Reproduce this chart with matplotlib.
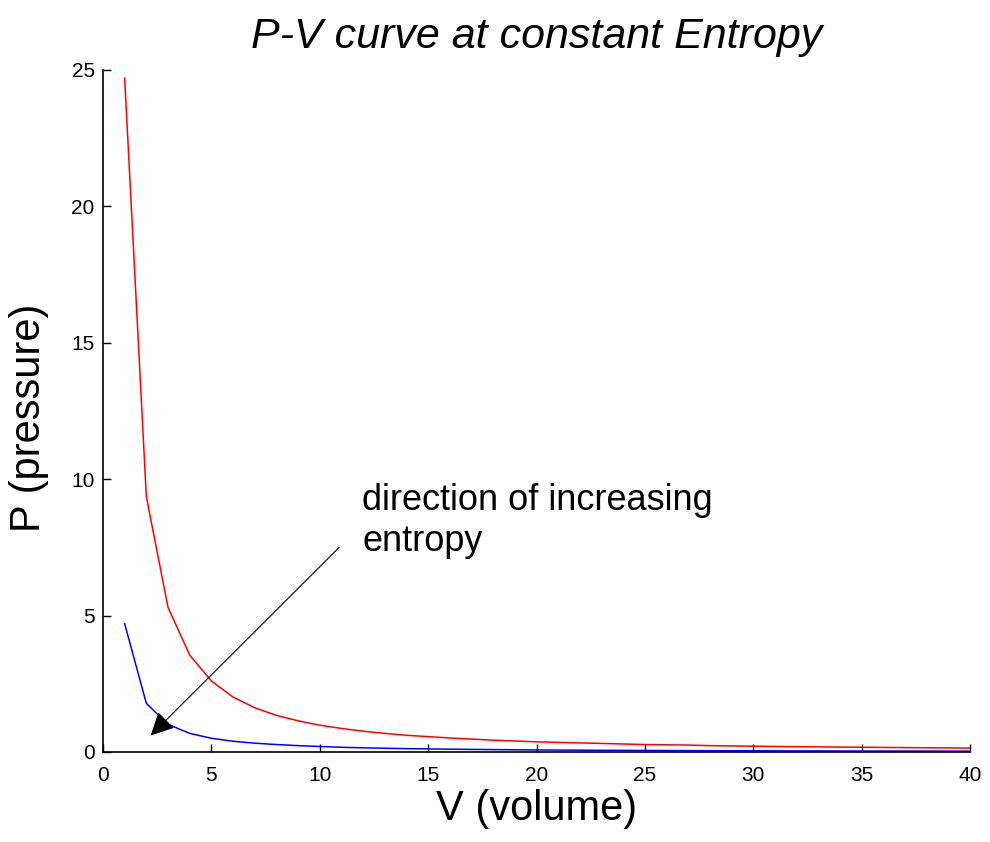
import matplotlib.pyplot as plt

# Data
volume = list(range(1, 41))
p_red = [24.7, 9.36, 5.30, 3.55, 2.60, 2.01, 1.62, 1.34, 1.14, 0.98,
         0.86, 0.76, 0.68, 0.61, 0.56, 0.51, 0.47, 0.43, 0.40, 0.37,
         0.35, 0.33, 0.31, 0.29, 0.27, 0.26, 0.25, 0.23, 0.22, 0.21,
         0.20, 0.19, 0.185, 0.177, 0.17, 0.164, 0.158, 0.152, 0.146, 0.141]
p_blue = [4.70, 1.78, 1.01, 0.68, 0.50, 0.39, 0.32, 0.27, 0.23, 0.20,
          0.17, 0.15, 0.135, 0.12, 0.11, 0.10, 0.092, 0.085, 0.078, 0.072,
          0.067, 0.063, 0.059, 0.056, 0.053, 0.05, 0.047, 0.045, 0.043, 0.041,
          0.039, 0.037, 0.036, 0.034, 0.033, 0.032, 0.031, 0.03, 0.029, 0.028]
x_ticks = [0, 5, 10, 15, 20, 25, 30, 35, 40]
y_ticks = [0, 5, 10, 15, 20, 25]

plt.rcParams['font.family'] = ['Liberation Sans', 'DejaVu Sans']

fig = plt.figure(figsize=(9.9, 8.42), dpi=100)
ax = fig.add_axes([0.104, 0.107, 0.876, 0.81])

ax.plot(volume, p_red, color='#ff0000', lw=1.1)
ax.plot(volume, p_blue, color='#0000ff', lw=1.1)

ax.set_xlim(0, 40)
ax.set_ylim(0, 25)
ax.set_xticks(x_ticks)
ax.set_yticks(y_ticks)
ax.tick_params(direction='in', length=6, width=1, labelsize=15)
ax.tick_params(axis='x', pad=10)
ax.tick_params(axis='y', pad=6)

for s in ['top', 'right']:
    ax.spines[s].set_visible(False)
for s in ['left', 'bottom']:
    ax.spines[s].set_linewidth(1.2)

ax.set_title('P-V curve at constant Entropy', fontsize=31, style='italic', pad=16)
ax.set_xlabel('V (volume)', fontsize=30)
ax.set_ylabel('P (pressure)', fontsize=30)
ax.xaxis.set_label_coords(0.5, -0.055)
ax.yaxis.set_label_coords(-0.062, 0.49)

ax.annotate('', xy=(2.2, 0.6), xytext=(10.9, 7.5),
            arrowprops=dict(arrowstyle='-|>', color='black', lw=0.8,
                            mutation_scale=36, shrinkA=0, shrinkB=0))
ax.text(11.95, 9.85, 'direction of increasing\nentropy', fontsize=26,
        va='top', ha='left', linespacing=1.2)

plt.savefig('out.png', dpi=100)
